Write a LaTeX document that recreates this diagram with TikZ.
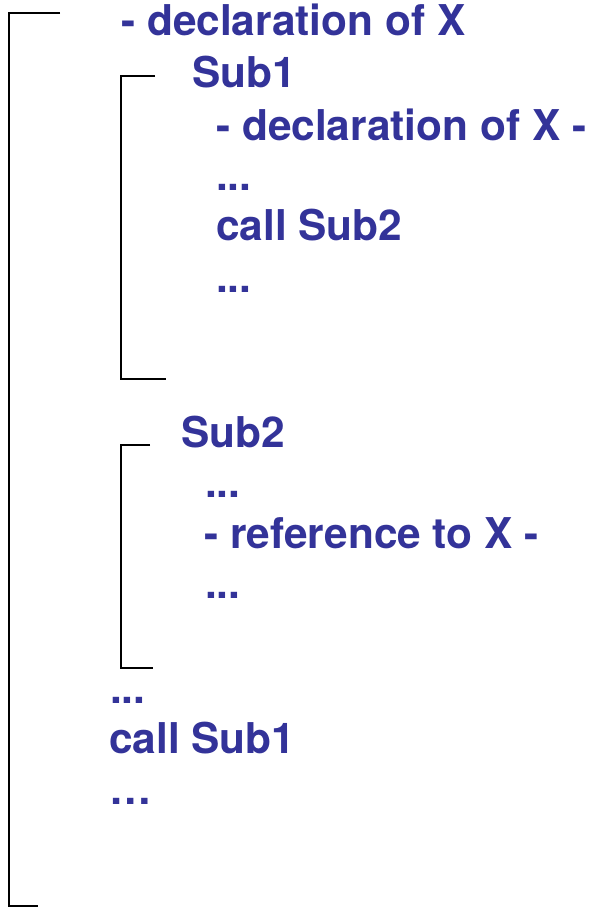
\documentclass[tikz,border=0pt]{standalone}
\usepackage{fontspec}
\setmainfont{TeX Gyre Heros}
\definecolor{codeblue}{RGB}{51,51,153}
\begin{document}
\begin{tikzpicture}[x=1pt,y=-1pt,
  txt/.style={anchor=base west, inner sep=0pt, text=codeblue, font=\fontsize{42.4}{50}\selectfont\bfseries},
  bracket/.style={draw=black, line width=2.1pt}]
\useasboundingbox (0,0) rectangle (593,908);
% brackets
\draw[bracket] (60,13) -- (9,13) -- (9,906) -- (38,906);
\draw[bracket] (155,76) -- (121,76) -- (121,379) -- (166,379);
\draw[bracket] (150,445) -- (121,445) -- (121,668) -- (153,668);
% text
\node[txt] (t1) at (121,35) {- declaration of X};
\node[txt] (t2) at (192,87) {Sub1};
\node[txt] (t3) at (216,140) {- declaration of X -};
\node[txt] (t4) at (216,190) {...};
\node[txt] (t5) at (216,240) {call Sub2};
\node[txt] (t6) at (216,292) {...};
\node[txt] (t7) at (181,447) {Sub2};
\node[txt] (t8) at (205,497) {...};
\node[txt] (t9) at (204,548) {- reference to X -};
\node[txt] (t10) at (205,598) {...};
\node[txt] (t11) at (110,703) {...};
\node[txt] (t12) at (109,753) {call Sub1};
\node[txt] (t13) at (109,804) {…};
\end{tikzpicture}
\end{document}
